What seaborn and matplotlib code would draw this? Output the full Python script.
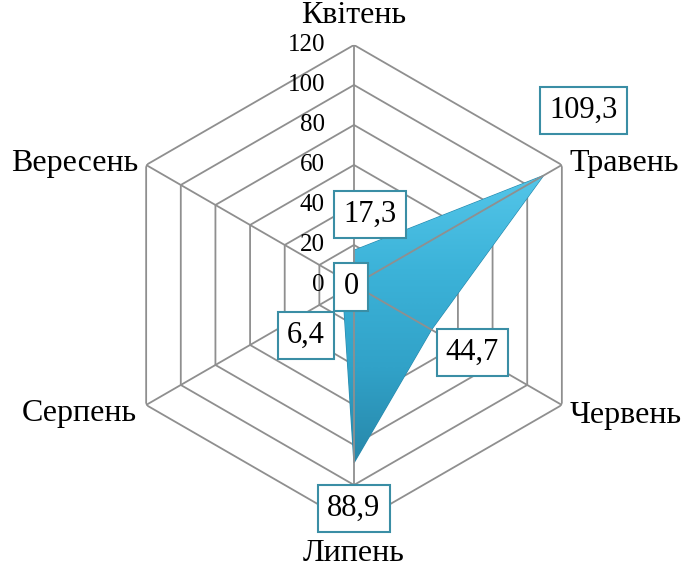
import numpy as np
import matplotlib
matplotlib.use("Agg")
import matplotlib.pyplot as plt
import seaborn as sns
from matplotlib.image import AxesImage
from matplotlib.colors import LinearSegmentedColormap

# Monthly values, clockwise from the top spoke
months = ["Квітень", "Травень", "Червень", "Липень", "Серпень", "Вересень"]
values = [17.3, 109.3, 44.7, 88.9, 6.4, 0.0]
value_labels = ["17,3", "109,3", "44,7", "88,9", "6,4", "0"]
r_ticks = [0, 20, 40, 60, 80, 100, 120]

sns.set_theme(style="white")
plt.rcParams["font.family"] = ["Liberation Serif", "DejaVu Serif"]

fig = plt.figure(figsize=(6.83, 5.72), dpi=100)
fig.patch.set_facecolor("white")
ax = fig.add_axes([0.1669, 0.0822, 0.7028, 0.8392], projection="polar")
ax.set_theta_zero_location("N")
ax.set_theta_direction(-1)
ax.set_ylim(0, r_ticks[-1])
ax.grid(False)
ax.spines["polar"].set_visible(False)
ax.set_xticks([])
ax.set_yticks([])
ax.patch.set_alpha(0)

n = len(months)
angles = np.arange(n) * 2 * np.pi / n
closed_angles = np.append(angles, angles[0])

grid_c = "#8f8f8f"

# hexagonal rings
for r in r_ticks[1:]:
    ax.plot(closed_angles, [r] * (n + 1), color=grid_c, lw=1.3, zorder=1,
            solid_joinstyle="miter")

# data polygon with a vertical gradient fill
vals_closed = values + [values[0]]
poly = ax.fill(closed_angles, vals_closed, facecolor="#36aad0",
               edgecolor="#2a8aad", lw=0.9, zorder=2)[0]
cmap = LinearSegmentedColormap.from_list(
    "fillgrad", ["#2786a8", "#31a2c8", "#3cb3d9", "#55c7ea"])
grad = np.linspace(0, 1, 256).reshape(-1, 1)
im = AxesImage(ax, cmap=cmap, origin="lower", extent=(0, 1, 0.12, 0.74),
               interpolation="bilinear")
im.set_data(grad)
im.set_transform(ax.transAxes)
im.set_clip_path(poly)
im.set_zorder(2.5)
ax.add_artist(im)

# spokes
for a in angles:
    ax.plot([a, a], [0, r_ticks[-1]], color=grid_c, lw=1.3, zorder=3)

# radial tick labels along the top spoke
for r in r_ticks:
    ax.annotate(str(r), xy=(0, r), xytext=(-29, 0), textcoords="offset pixels",
                ha="right", va="center", fontsize=18, color="black", zorder=4)

# month labels around the outer ring
cat_offsets = [(0, 22), (8, -6), (8, -18), (0, -36), (-9, -16), (-8, -6)]
cat_ha = ["center", "left", "left", "center", "right", "right"]
for a, name, off, ha in zip(angles, months, cat_offsets, cat_ha):
    ax.annotate(name, xy=(a, r_ticks[-1]), xytext=off, textcoords="offset pixels",
                ha=ha, va="baseline", fontsize=23, color="black",
                annotation_clip=False)

# value labels in boxes
lab_offsets = [(16, 36), (40, 65), (41, -23), (0, -46), (-37, -44), (-3, -2)]
for a, v, txt, off in zip(angles, values, value_labels, lab_offsets):
    ax.annotate(txt, xy=(a, v), xytext=off, textcoords="offset pixels",
                ha="center", va="center", fontsize=22, color="black", zorder=6,
                annotation_clip=False,
                bbox=dict(boxstyle="square,pad=0.3", fc="white",
                          ec="#3a8ea5", lw=1.5))

fig.savefig("out.png", dpi=100)
